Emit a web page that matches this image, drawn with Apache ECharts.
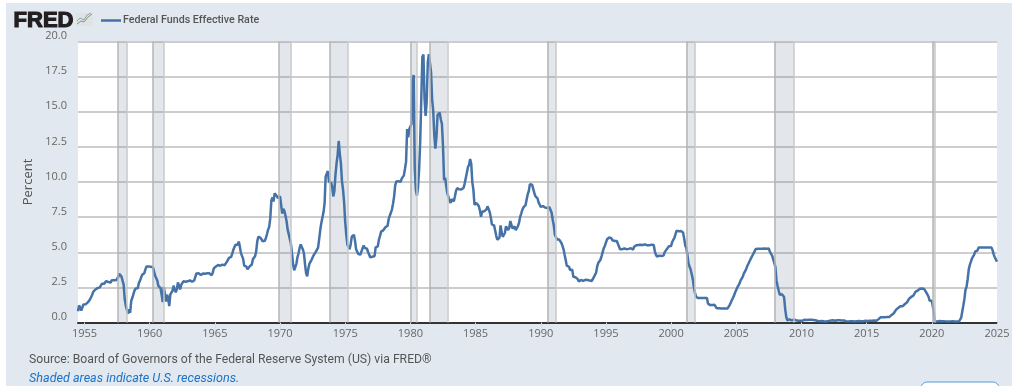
<!DOCTYPE html>
<html><head><meta charset="utf-8">
<script src="https://cdn.jsdelivr.net/npm/echarts@6/dist/echarts.min.js"></script>
<style>html,body{margin:0;padding:0;background:#fff;overflow:hidden}#c{width:1021px;height:386px}</style>
</head><body><div id="c"></div>
<script>
const seriesName = 'Federal Funds Effective Rate';
const startYear = 1954.5; // monthly values from July 1954
const rates1950s = [0.80,1.22,1.07,0.85,0.83,1.28,
1.39,1.29,1.35,1.43,1.43,1.64,1.68,1.96,2.18,2.24,2.35,2.48,
2.45,2.50,2.50,2.62,2.75,2.71,2.75,2.73,2.95,2.96,2.88,2.94,
2.84,3.00,2.96,3.00,3.00,3.00,2.99,3.24,3.47,3.50,3.28,2.98,
2.72,1.67,1.20,1.26,0.63,0.93,0.68,1.53,1.76,1.80,2.27,2.42,
2.48,2.43,2.80,2.96,2.90,3.39,3.47,3.50,3.76,3.98,4.00,3.99];
const rates1960s = [3.99,3.97,3.84,3.92,3.85,3.32,3.23,2.98,2.60,2.47,2.44,1.98,
1.45,2.54,2.02,1.49,1.98,1.73,1.17,2.00,1.88,2.26,2.62,2.33,
2.15,2.37,2.85,2.78,2.36,2.68,2.71,2.93,2.90,2.90,2.94,2.93,
2.92,3.00,2.98,2.90,3.00,2.99,3.02,3.49,3.48,3.50,3.48,3.38,
3.48,3.48,3.43,3.47,3.50,3.50,3.42,3.50,3.45,3.36,3.52,3.85,
3.90,3.98,4.04,4.09,4.10,4.04,4.09,4.12,4.01,4.08,4.10,4.32,
4.42,4.60,4.65,4.67,4.90,5.17,5.30,5.53,5.40,5.53,5.76,5.40,
4.94,5.00,4.53,4.05,3.94,3.98,3.79,3.90,3.99,3.88,4.13,4.51,
4.61,4.71,5.05,5.76,6.11,6.07,6.02,6.03,5.78,5.91,5.82,6.02,
6.30,6.61,6.79,7.41,8.67,8.90,8.61,9.19,9.15,9.00,8.85,8.97];
const rates1970s = [8.98,8.98,7.76,8.10,7.94,7.60,7.21,6.61,6.29,6.20,5.60,4.90,
4.14,3.72,3.71,4.16,4.63,4.91,5.31,5.56,5.55,5.20,4.91,4.14,
3.50,3.29,3.83,4.17,4.27,4.46,4.55,4.80,4.87,5.04,5.06,5.33,
5.94,6.58,7.09,7.12,7.84,8.49,10.40,10.50,10.78,10.01,10.03,9.95,
9.65,8.97,9.35,10.51,11.31,11.93,12.92,12.01,11.34,10.06,9.45,8.53,
7.13,6.24,5.54,5.49,5.22,5.55,6.10,6.14,6.24,5.82,5.22,5.20,
4.87,4.77,4.84,4.82,5.29,5.48,5.31,5.29,5.25,5.02,4.95,4.65,
4.61,4.68,4.69,4.73,5.35,5.39,5.42,5.90,6.14,6.47,6.51,6.56,
6.70,6.78,6.79,6.89,7.36,7.60,7.81,8.04,8.45,8.96,9.76,10.03,
10.07,10.06,10.09,10.01,10.24,10.29,10.47,10.94,11.43,13.77,13.18,13.78];
const rates1980s = [13.82,14.13,17.19,17.61,10.98,9.47,9.03,9.61,10.87,12.81,15.85,18.90,
19.08,15.93,14.70,15.72,18.52,19.10,19.04,17.82,15.87,15.08,13.31,12.37,
13.22,14.78,14.68,14.94,14.45,14.15,12.59,10.12,10.31,9.71,9.20,8.95,
8.68,8.51,8.77,8.80,8.63,8.98,9.37,9.56,9.45,9.48,9.34,9.47,
9.56,9.59,9.91,10.29,10.32,11.06,11.23,11.64,11.30,9.99,9.43,8.38,
8.35,8.50,8.58,8.27,7.97,7.53,7.88,7.90,7.92,7.99,8.05,8.27,
8.14,7.86,7.48,6.99,6.85,6.92,6.56,6.17,5.89,5.85,6.04,6.91,
6.43,6.10,6.13,6.37,6.85,6.73,6.58,6.73,7.22,7.29,6.69,6.77,
6.83,6.58,6.58,6.87,7.09,7.51,7.75,8.01,8.19,8.30,8.35,8.76,
9.12,9.36,9.85,9.84,9.81,9.53,9.24,8.99,9.02,8.84,8.55,8.45];
const rates1990s = [8.23,8.24,8.28,8.26,8.18,8.29,8.15,8.13,8.20,8.11,7.81,7.31,
6.91,6.25,6.12,5.91,5.78,5.90,5.82,5.66,5.45,5.21,4.81,4.43,
4.03,4.06,3.98,3.73,3.82,3.76,3.25,3.30,3.22,3.10,3.09,2.92,
3.02,3.03,3.07,2.96,3.00,3.04,3.06,3.03,3.09,2.99,3.02,2.96,
3.05,3.25,3.34,3.56,4.01,4.25,4.26,4.47,4.73,4.76,5.29,5.45,
5.53,5.92,5.98,6.05,6.01,6.00,5.85,5.74,5.80,5.76,5.80,5.60,
5.56,5.22,5.31,5.22,5.24,5.27,5.40,5.22,5.30,5.24,5.31,5.29,
5.25,5.19,5.39,5.51,5.50,5.56,5.52,5.54,5.54,5.50,5.52,5.50,
5.56,5.51,5.49,5.45,5.49,5.56,5.54,5.55,5.51,5.07,4.83,4.68,
4.63,4.76,4.81,4.74,4.74,4.76,4.99,5.07,5.22,5.20,5.42,5.30];
const rates2000s = [5.45,5.73,5.85,6.02,6.27,6.53,6.54,6.50,6.52,6.51,6.51,6.40,
5.98,5.49,5.31,4.80,4.21,3.97,3.77,3.65,3.07,2.49,2.09,1.82,
1.73,1.74,1.73,1.75,1.75,1.75,1.73,1.74,1.75,1.75,1.34,1.24,
1.24,1.26,1.25,1.26,1.26,1.22,1.01,1.03,1.01,1.01,1.00,0.98,
1.00,1.01,1.00,1.00,1.00,1.03,1.26,1.43,1.61,1.76,1.93,2.16,
2.28,2.50,2.63,2.79,3.00,3.04,3.26,3.50,3.62,3.78,4.00,4.16,
4.29,4.49,4.59,4.79,4.94,4.99,5.24,5.25,5.25,5.25,5.25,5.24,
5.25,5.26,5.26,5.25,5.25,5.25,5.26,5.02,4.94,4.76,4.49,4.24,
3.94,2.98,2.61,2.28,1.98,2.00,2.01,2.00,1.81,0.97,0.39,0.16,
0.15,0.22,0.18,0.15,0.18,0.21,0.16,0.16,0.15,0.12,0.12,0.12];
const rates2010s = [0.11,0.13,0.16,0.20,0.20,0.18,0.18,0.19,0.19,0.19,0.19,0.18,
0.17,0.16,0.14,0.10,0.09,0.09,0.07,0.10,0.08,0.07,0.08,0.07,
0.08,0.10,0.13,0.14,0.16,0.16,0.16,0.13,0.14,0.16,0.16,0.16,
0.14,0.15,0.14,0.15,0.11,0.09,0.09,0.08,0.08,0.09,0.08,0.09,
0.07,0.07,0.08,0.09,0.09,0.10,0.09,0.09,0.09,0.09,0.09,0.12,
0.11,0.11,0.11,0.12,0.12,0.13,0.13,0.14,0.14,0.12,0.12,0.24,
0.34,0.38,0.36,0.37,0.37,0.38,0.39,0.40,0.40,0.40,0.41,0.54,
0.65,0.66,0.79,0.90,0.91,1.04,1.15,1.16,1.15,1.15,1.16,1.30,
1.41,1.42,1.51,1.69,1.70,1.82,1.91,1.91,1.95,2.19,2.20,2.27,
2.40,2.40,2.41,2.42,2.39,2.38,2.40,2.13,2.04,1.83,1.55,1.55];
const rates2020s = [1.55,1.58,0.65,0.05,0.05,0.08,0.09,0.10,0.09,0.09,0.09,0.09,
0.09,0.08,0.07,0.07,0.06,0.08,0.10,0.09,0.08,0.08,0.08,0.08,
0.08,0.08,0.20,0.33,0.77,1.21,1.68,2.33,2.56,3.08,3.78,4.10,
4.33,4.57,4.65,4.83,5.06,5.08,5.12,5.33,5.33,5.33,5.33,5.33,
5.33,5.33,5.33,5.33,5.33,5.33,5.33,5.33,5.13,4.83,4.64,4.48,
4.33];
const recessions = [[1957.58,1958.25],[1960.25,1961.08],[1969.92,1970.83],[1973.83,1975.17],[1980.0,1980.5],
[1981.5,1982.83],[1990.5,1991.17],[2001.17,2001.83],[2007.92,2009.42],[2020.08,2020.25]];
const xTicks = [1955,1960,1965,1970,1975,1980,1985,1990,1995,2000,2005,2010,2015,2020,2025];
const sourceText = 'Source: Board of Governors of the Federal Reserve System (US) via FRED®';
const noteText = 'Shaded areas indicate U.S. recessions.';

const rates = [].concat(rates1950s,rates1960s,rates1970s,rates1980s,rates1990s,rates2000s,rates2010s,rates2020s);
const points = rates.map((v,i)=>[startYear+i/12,v]);

const chart = echarts.init(document.getElementById('c'),null,{renderer:'canvas'});
chart.setOption({
  animation:false,
  backgroundColor:'transparent',
  textStyle:{fontFamily:'Roboto'},
  grid:{left:78,right:24,top:41.5,height:281,containLabel:false},
  legend:{show:true,left:96,top:10,itemWidth:20,itemHeight:2.5,itemGap:6,icon:'rect',
    textStyle:{fontFamily:'Roboto',fontSize:10.7,fontWeight:500,color:'#555',padding:[0,0,0,-3]},
    data:[seriesName]},
  xAxis:{type:'value',min:startYear,max:2025,
    axisLine:{show:true,onZero:false,lineStyle:{color:'#333',width:2}},
    axisTick:{show:true,length:10,customValues:xTicks,lineStyle:{color:'#d6dee7',width:1}},
    axisLabel:{show:true,customValues:xTicks,margin:6,fontFamily:'Open Sans',fontSize:11,color:'#666',
      showMinLabel:true,showMaxLabel:true,formatter:v=>String(v)},
    splitLine:{show:false}},
  yAxis:{type:'value',min:0,max:20,interval:2.5,name:'Percent',nameLocation:'middle',nameGap:42,
    nameTextStyle:{fontFamily:'Open Sans',fontSize:13,color:'#555'},
    axisLine:{show:false},axisTick:{show:false},
    axisLabel:{margin:11,fontFamily:'Open Sans',fontSize:11,color:'#666',verticalAlign:'bottom',lineHeight:11,formatter:v=>v.toFixed(1)},
    splitLine:{show:true,lineStyle:{color:'#cdcdcd',width:2}}},
  series:[{name:seriesName,type:'line',data:points,showSymbol:false,symbol:'none',
    lineStyle:{color:'#4572a7',width:2.5},itemStyle:{color:'#4572a7'},
    markArea:{silent:true,itemStyle:{color:'rgba(105,125,150,0.19)'},
      data:recessions.map(r=>[{xAxis:r[0]},{xAxis:r[1]}])},
    markLine:{silent:true,symbol:'none',label:{show:false},
      data:recessions.flatMap(r=>[
        {xAxis:r[0],lineStyle:{color:'#b4b4b4',width:1.5,type:'solid'}},
        {xAxis:r[1],lineStyle:{color:'#c8c8c8',width:1.5,type:'solid'}}])}
  }],
  graphic:[
    {type:'rect',z:-10,silent:true,shape:{x:6,y:3,width:1006,height:383},style:{fill:'#e1e8f0'}},
    {type:'rect',z:-9,silent:true,shape:{x:78,y:41.5,width:919,height:281},style:{fill:'#fff'}},
    {type:'text',left:13,top:9,silent:true,style:{text:'FRED',font:'bold 22px "Liberation Sans"',fill:'#231f20',stroke:'#231f20',lineWidth:1.2}},
    {type:'rect',silent:true,shape:{x:76,y:13,width:17,height:13},style:{fill:'#dfe3e6'}},
    {type:'polyline',silent:true,shape:{points:[[77,24],[81,21],[84,22],[88,17],[92,14]]},style:{stroke:'#7fa06a',fill:null,lineWidth:1}},
    {type:'polyline',silent:true,shape:{points:[[77,21],[80,18],[84,20],[87,15],[91,13]]},style:{stroke:'#8fa3b8',fill:null,lineWidth:1}},
    {type:'text',left:29,top:354,silent:true,style:{text:sourceText,font:'12.2px Roboto',fill:'#555'}},
    {type:'text',left:29,top:372,silent:true,style:{text:noteText,font:'italic 12.6px Roboto',fill:'#1a73c8'}},
    {type:'rect',silent:true,shape:{x:921,y:382,width:78,height:12,r:6},style:{fill:'#fff',stroke:'#5b9bd5',lineWidth:1}}
  ]
});
</script></body></html>
